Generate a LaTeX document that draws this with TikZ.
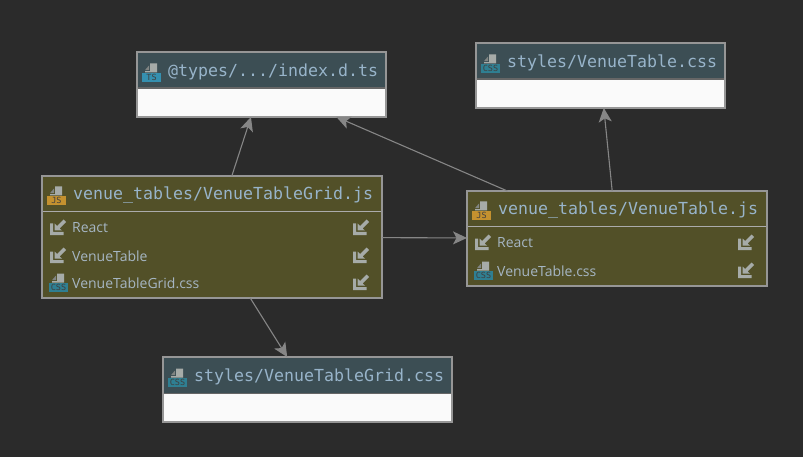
\documentclass[tikz,border=0pt]{standalone}
\usepackage{fontspec}
\setmainfont{Open Sans}
\setmonofont{DejaVu Sans Mono}
\usetikzlibrary{arrows.meta}
\definecolor{canvasbg}{HTML}{2B2B2B}
\definecolor{bluehead}{HTML}{3C4E54}
\definecolor{olivebody}{HTML}{525028}
\definecolor{whitebody}{HTML}{FAFAFA}
\definecolor{boxline}{HTML}{969696}
\definecolor{titlecol}{HTML}{98B4CA}
\definecolor{textcol}{HTML}{A6B6C4}
\definecolor{iconcol}{HTML}{A6ABA8}
\definecolor{jsbadge}{HTML}{C4912F}
\definecolor{tsbadge}{HTML}{3590B0}
\definecolor{cssbadge}{HTML}{2F7F92}
\tikzset{
    venuebox/.style={draw=boxline,line width=1.2pt,inner sep=0pt,outer sep=0pt},
    filebox/.style={venuebox,fill=whitebody},
    codebox/.style={venuebox,fill=olivebody},
    bluehead/.style={fill=bluehead,inner sep=0pt,outer sep=0pt,anchor=north,yshift=-0.6pt},
    olivehead/.style={inner sep=0pt,outer sep=0pt,anchor=north,yshift=-0.6pt},
    blueline/.style={draw=gray!80!black,line width=1.2pt},
    oliveline/.style={draw=boxline!80!white,line width=1.2pt},
    titletext/.style={anchor=west,inner sep=0pt,text=titlecol,font=\ttfamily\fontsize{16.6}{18}\selectfont},
    rowtext/.style={anchor=west,inner sep=0pt,text=textcol,font=\fontsize{14}{16}\selectfont},
    deparrow/.style={draw=gray!95,line width=1.1pt,-{Stealth[length=14pt,width=13pt,inset=3.5pt]}},
    %% file icon: origin is the top left of the badge
    pics/fileicon/.style 2 args={code={
        \fill[iconcol] (8,-9.5) -- (15,-9.5) -- (15,-0.5) -- (3,-0.5) -- (3,-1.8) -- (8,-1.8) -- cycle;
        \fill[iconcol!70!canvasbg] (3,-2.8) -- (7,-7.5) -- (7,-2.8) -- cycle;
        \fill[#1] (0,0) rectangle (19,9);
        \node[inner sep=0pt,text=black!75,font=\ttfamily\fontsize{8.5}{8}\selectfont] at (9.5,4.6) {#2};
    }},
    %% import icon: origin is its centre
    pics/importicon/.style={code={
        \fill[iconcol] (-8,-4.5) -- (-5,-4.5) -- (-5,4) -- (5.5,4) -- (5.5,7) -- (-8,7) -- cycle;
        \fill[iconcol] (-3.5,2.5) -- (-3.5,-4.5) -- (-1,-2) -- (5.5,-8.5) -- (8,-6) -- (1.5,0.5) -- (4,2.5) -- cycle;
    }},
}
\begin{document}
\begin{tikzpicture}[x=1pt,y=-1pt]
    \useasboundingbox[fill=canvasbg] (0,0) rectangle (803,457);
    %% types box
    \node[filebox,minimum width=249pt,minimum height=65pt] (types) at (261.5,84.5) {};
    \node[bluehead,minimum width=247.8pt,minimum height=35.5pt] (typeshead) at (types.north) {};
    \draw[blueline] (typeshead.south west) -- (typeshead.south east);
    \pic at (142,73) {fileicon={tsbadge}{TS}};
    \node[titletext] (typestitle) at (168,71.5) {@types/.../index.d.ts};
    %% styles box
    \node[filebox,minimum width=249pt,minimum height=65pt] (styles) at (600.5,75.5) {};
    \node[bluehead,minimum width=247.8pt,minimum height=35.5pt] (styleshead) at (styles.north) {};
    \draw[blueline] (styleshead.south west) -- (styleshead.south east);
    \pic at (481,64) {fileicon={cssbadge}{CSS}};
    \node[titletext] (stylestitle) at (507,62.5) {styles/VenueTable.css};
    %% grid box
    \node[codebox,minimum width=340pt,minimum height=122pt] (grid) at (212,237) {};
    \node[olivehead,minimum width=338.8pt,minimum height=35pt] (gridhead) at (grid.north) {};
    \draw[oliveline] (gridhead.south west) -- (gridhead.south east);
    \pic at (47,196) {fileicon={jsbadge}{JS}};
    \node[titletext] (gridtitle) at (73,195) {venue\_tables/VenueTableGrid.js};
    \pic at (58,228) {importicon};
    \pic at (58,256) {importicon};
    \pic at (49,283) {fileicon={cssbadge}{CSS}};
    \node[rowtext] (gridreact) at (72,228) {React};
    \node[rowtext] (gridtable) at (72,256) {VenueTable};
    \node[rowtext] (gridcss) at (72,283) {VenueTableGrid.css};
    \foreach \rowy in {228,256,283}
        \pic at (361,\rowy) {importicon};
    %% table box
    \node[codebox,minimum width=300pt,minimum height=95pt] (table) at (617,238.5) {};
    \node[olivehead,minimum width=298.8pt,minimum height=35pt] (tablehead) at (table.north) {};
    \draw[oliveline] (tablehead.south west) -- (tablehead.south east);
    \pic at (472,211) {fileicon={jsbadge}{JS}};
    \node[titletext] (tabletitle) at (498,210) {venue\_tables/VenueTable.js};
    \pic at (483,243) {importicon};
    \pic at (474,271) {fileicon={cssbadge}{CSS}};
    \node[rowtext] (tablereact) at (497,243) {React};
    \node[rowtext] (tablecss) at (497,271) {VenueTable.css};
    \foreach \rowy in {243,271}
        \pic at (746,\rowy) {importicon};
    %% grid css box
    \node[filebox,minimum width=289pt,minimum height=65pt] (gridstyles) at (307.5,389.5) {};
    \node[bluehead,minimum width=287.8pt,minimum height=35.5pt] (gridstyleshead) at (gridstyles.north) {};
    \draw[blueline] (gridstyleshead.south west) -- (gridstyleshead.south east);
    \pic at (168,378) {fileicon={cssbadge}{CSS}};
    \node[titletext] (gridstylestitle) at (194,376.5) {styles/VenueTableGrid.css};
    %% arrows
    \draw[deparrow] (grid) -- (types);
    \draw[deparrow] (grid) -- (table);
    \draw[deparrow] (grid) -- (gridstyles);
    \draw[deparrow] (table) -- (types);
    \draw[deparrow] (table) -- (styles);
\end{tikzpicture}
\end{document}
